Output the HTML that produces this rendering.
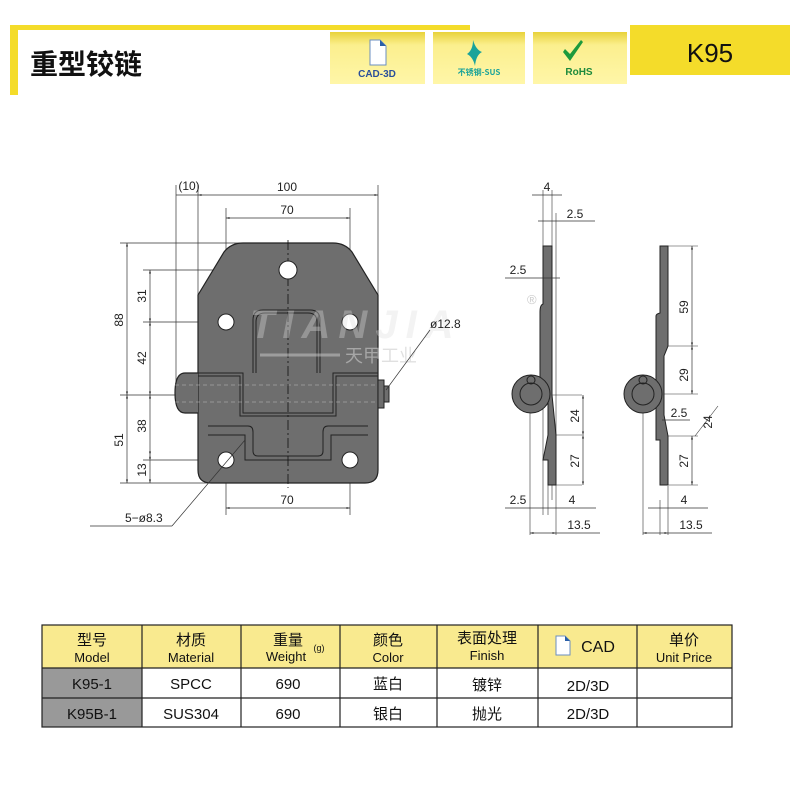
<!DOCTYPE html>
<html><head><meta charset="utf-8"><style>
body{margin:0;width:790px;height:790px;background:#fff;overflow:hidden;font-family:"Liberation Sans","Noto Sans CJK SC",sans-serif}
</style></head><body>
<svg width="790" height="790" viewBox="0 0 790 790" xmlns="http://www.w3.org/2000/svg" font-family="Liberation Sans, Noto Sans CJK SC, sans-serif">
<defs>
<linearGradient id="ig" x1="0" y1="0" x2="0" y2="1"><stop offset="0" stop-color="#e8d23a"/><stop offset="0.25" stop-color="#fbef8e"/><stop offset="1" stop-color="#fff6a8"/></linearGradient>
<marker id="a" viewBox="0 0 10 10" refX="10" refY="5" markerWidth="7" markerHeight="5" orient="auto-start-reverse"><path d="M0,2 L10,5 L0,8z" fill="#333"/></marker>
</defs>
<!-- header -->
<rect x="10" y="25" width="460" height="5" fill="#f4dc2a"/>
<rect x="10" y="25" width="8" height="70" fill="#f4dc2a"/>
<text x="30" y="74" font-size="28" font-weight="bold" fill="#111" font-family="Noto Sans CJK SC, sans-serif">重型铰链</text>
<rect x="330" y="32" width="95" height="52" fill="url(#ig)"/>
<rect x="433" y="32" width="92" height="52" fill="url(#ig)"/>
<rect x="533" y="32" width="94" height="52" fill="url(#ig)"/>
<path d="M370,40 h10 l6,6 v19 h-16z" fill="#fff" stroke="#6b8fc0"/><path d="M380,40 l6,6 h-6z" fill="#2a5fa8"/>
<text x="377" y="77" font-size="10" font-weight="bold" fill="#2a4f9a" text-anchor="middle">CAD-3D</text>
<path d="M473,40 q3,10 9,12 q-6,3 -7,14 q-2,-9 -8,-12 q6,-4 6,-14z" fill="#1aa39a"/>
<text x="479" y="75" font-size="8" font-weight="bold" fill="#1aa39a" text-anchor="middle" font-family="Noto Sans CJK SC, sans-serif">不锈钢-SUS</text>
<path d="M563,52 l7,9 l13,-19 l-2,-2 l-11,14 l-5,-5z" fill="#1d9a3c"/>
<text x="579" y="75" font-size="10" font-weight="bold" fill="#1d8a3c" text-anchor="middle">RoHS</text>
<rect x="630" y="25" width="160" height="50" fill="#f4dc2a"/>
<text x="710" y="62" font-size="26" fill="#111" text-anchor="middle">K95</text>

<g stroke="#333" stroke-width="0.7" fill="none">
<line x1="176" y1="185" x2="176" y2="395"/><line x1="198" y1="185" x2="198" y2="295"/><line x1="378" y1="185" x2="378" y2="295"/>
<line x1="226" y1="208" x2="226" y2="322"/><line x1="350" y1="208" x2="350" y2="322"/>
<line x1="226" y1="460" x2="226" y2="515"/><line x1="350" y1="460" x2="350" y2="515"/>
<line x1="120" y1="243" x2="290" y2="243"/><line x1="143" y1="270" x2="300" y2="270"/><line x1="143" y1="322" x2="240" y2="322"/>
<line x1="120" y1="395" x2="200" y2="395"/><line x1="143" y1="460" x2="215" y2="460"/><line x1="120" y1="483" x2="250" y2="483"/>
</g>
<!-- plate -->
<path d="M243,243 H333 Q345,243 352,252 L378,295 V470 Q378,483 365,483 H211 Q198,483 198,470 V295 L224,252 Q231,243 243,243Z" fill="#6e6e6e" stroke="#222" stroke-width="1.2"/>
<path d="M198,373 H185 Q175,373 175,393 Q175,413 185,413 H198" fill="#6e6e6e" stroke="#222" stroke-width="1.2"/>
<g fill="none" stroke="#222" stroke-width="1">
<path d="M198,373 H243 V413 H333 V373 H378"/><path d="M198,376 H240 V416 H336 V376 H378"/>
<path d="M253,373 V320 Q253,310 263,310 H310 Q320,310 320,320 V373"/><path d="M256,373 V322 Q256,313 265,313 H308 Q317,313 317,322 V373"/>
<path d="M208,426 H248 Q253,426 253,432 V451 Q253,456 258,456 H318 Q323,456 323,451 V432 Q323,426 328,426 H368"/>
<path d="M208,435 H245 V460 H331 V435 H368"/>
<rect x="378" y="380" width="6" height="28" fill="#6e6e6e"/><rect x="384" y="386" width="5" height="16" fill="#6e6e6e"/>
</g>
<g stroke="#bbb" stroke-width="0.6" stroke-dasharray="4,3"><line x1="175" y1="385" x2="378" y2="385"/><line x1="175" y1="402" x2="378" y2="402"/></g>
<line x1="288" y1="240" x2="288" y2="488" stroke="#111" stroke-dasharray="10,3,2,3" stroke-width="0.8"/>
<g fill="#fff" stroke="#222"><circle cx="288" cy="270" r="9"/><circle cx="226" cy="322" r="8"/><circle cx="350" cy="322" r="8"/><circle cx="226" cy="460" r="8"/><circle cx="350" cy="460" r="8"/></g>
<!-- watermark -->
<text x="250" y="338" font-size="40" font-weight="bold" font-style="italic" fill="#ddd" opacity="0.35" letter-spacing="8">TIANJIA</text>
<line x1="260" y1="355" x2="340" y2="355" stroke="#ccc" stroke-width="3" opacity="0.5"/>
<text x="345" y="362" font-size="18" fill="#ccc" opacity="0.6" font-family="Noto Sans CJK SC, sans-serif">天甲工业</text>
<!-- dims front -->
<g stroke="#333" stroke-width="0.7" marker-start="url(#a)" marker-end="url(#a)">
<line x1="198" y1="195" x2="378" y2="195"/><line x1="226" y1="218" x2="350" y2="218"/><line x1="226" y1="508" x2="350" y2="508"/>
<line x1="127" y1="243" x2="127" y2="395"/><line x1="127" y1="395" x2="127" y2="483"/>
<line x1="150" y1="270" x2="150" y2="322"/><line x1="150" y1="322" x2="150" y2="395"/><line x1="150" y1="395" x2="150" y2="455"/><line x1="150" y1="455" x2="150" y2="483"/>
</g>
<line x1="176" y1="195" x2="198" y2="195" stroke="#333" stroke-width="0.7"/>
<line x1="90" y1="526" x2="172" y2="526" stroke="#333" stroke-width="0.7"/><line x1="172" y1="526" x2="245" y2="440" stroke="#333" stroke-width="0.7"/>
<line x1="386" y1="390" x2="430" y2="330" stroke="#333" stroke-width="0.7"/>
<g font-size="12" fill="#222" text-anchor="middle">
<text x="189" y="190">(10)</text><text x="287" y="191">100</text><text x="287" y="214">70</text><text x="287" y="504">70</text>
<text x="125" y="522" text-anchor="start">5−ø8.3</text><text x="430" y="328" text-anchor="start">ø12.8</text>
<text transform="translate(123,320) rotate(-90)">88</text><text transform="translate(123,440) rotate(-90)">51</text>
<text transform="translate(146,296) rotate(-90)">31</text><text transform="translate(146,358) rotate(-90)">42</text>
<text transform="translate(146,426) rotate(-90)">38</text><text transform="translate(146,470) rotate(-90)">13</text>
</g>

<!-- side view left -->
<g stroke="#333" stroke-width="0.6" fill="none">
<line x1="543" y1="190" x2="543" y2="515"/><line x1="552" y1="190" x2="552" y2="500"/><line x1="556" y1="213" x2="556" y2="535"/>
<line x1="530" y1="400" x2="530" y2="535"/><line x1="548" y1="480" x2="548" y2="515"/>
<line x1="540" y1="395" x2="582" y2="395"/><line x1="548" y1="435" x2="582" y2="435"/><line x1="548" y1="485" x2="582" y2="485"/>
</g>
<path d="M543,246 H552 V395 L556,435 V485 H548 V460 H543 L548,435 V400 H540 V312 Q540,305 543,304Z" fill="#6e6e6e" stroke="#222"/>
<circle cx="531" cy="394" r="19" fill="#6e6e6e" stroke="#222"/><circle cx="531" cy="394" r="11" fill="none" stroke="#222"/><circle cx="531" cy="380" r="4" fill="none" stroke="#222"/>
<text x="527" y="304" font-size="13" fill="#ccc">®</text>
<!-- side view right -->
<g stroke="#333" stroke-width="0.6" fill="none">
<line x1="660" y1="500" x2="660" y2="535"/><line x1="668" y1="486" x2="668" y2="535"/><line x1="643" y1="400" x2="643" y2="535"/>
<line x1="668" y1="246" x2="698" y2="246"/><line x1="668" y1="346" x2="698" y2="346"/><line x1="660" y1="394" x2="698" y2="394"/><line x1="668" y1="436" x2="698" y2="436"/><line x1="668" y1="485" x2="698" y2="485"/>
<line x1="695" y1="436" x2="718" y2="406"/>
</g>
<path d="M660,246 H668 V346 L664,356 V415 L668,436 V485 H660 V440 H656 V316 Q656,314 660,313Z" fill="#6e6e6e" stroke="#222"/>
<circle cx="643" cy="394" r="19" fill="#6e6e6e" stroke="#222"/><circle cx="643" cy="394" r="11" fill="none" stroke="#222"/><circle cx="643" cy="380" r="4" fill="none" stroke="#222"/>
<g stroke="#333" stroke-width="0.7" marker-start="url(#a)" marker-end="url(#a)">
<line x1="583" y1="395" x2="583" y2="435"/><line x1="583" y1="435" x2="583" y2="485"/>
<line x1="692" y1="246" x2="692" y2="346"/><line x1="692" y1="346" x2="692" y2="394"/><line x1="692" y1="436" x2="692" y2="485"/>
<line x1="530" y1="533" x2="556" y2="533"/><line x1="643" y1="533" x2="668" y2="533"/>
</g>
<g stroke="#333" stroke-width="0.7">
<line x1="532" y1="195" x2="562" y2="195"/><line x1="538" y1="221" x2="595" y2="221"/><line x1="505" y1="278" x2="560" y2="278"/>
<line x1="505" y1="508" x2="596" y2="508"/><line x1="648" y1="508" x2="708" y2="508"/><line x1="556" y1="533" x2="600" y2="533"/><line x1="668" y1="533" x2="712" y2="533"/>
<line x1="662" y1="420" x2="690" y2="420"/>
</g>
<g font-size="12" fill="#222" text-anchor="middle">
<text x="547" y="191">4</text><text x="575" y="218">2.5</text><text x="518" y="274">2.5</text>
<text x="518" y="504">2.5</text><text x="572" y="504">4</text><text x="579" y="529">13.5</text>
<text x="684" y="504">4</text><text x="691" y="529">13.5</text><text x="679" y="417">2.5</text>
<text transform="translate(579,416) rotate(-90)">24</text><text transform="translate(579,461) rotate(-90)">27</text>
<text transform="translate(688,307) rotate(-90)">59</text><text transform="translate(688,375) rotate(-90)">29</text><text transform="translate(688,461) rotate(-90)">27</text>
<text transform="translate(712,422) rotate(-90)">24</text>
</g>

<!-- table -->
<rect x="42" y="625" width="690" height="43" fill="#f9ea8f"/>
<rect x="42" y="668" width="100" height="59" fill="#999"/>
<g stroke="#222" stroke-width="1.2" fill="none">
<rect x="42" y="625" width="690" height="102"/>
<line x1="42" y1="668" x2="732" y2="668"/><line x1="42" y1="698" x2="732" y2="698"/>
<line x1="142" y1="625" x2="142" y2="727"/><line x1="241" y1="625" x2="241" y2="727"/><line x1="340" y1="625" x2="340" y2="727"/>
<line x1="437" y1="625" x2="437" y2="727"/><line x1="538" y1="625" x2="538" y2="727"/><line x1="637" y1="625" x2="637" y2="727"/>
</g>
<g font-size="15" fill="#111" text-anchor="middle" font-family="Noto Sans CJK SC, sans-serif">
<text x="92" y="645">型号</text><text x="191" y="645">材质</text><text x="288" y="645">重量</text><text x="388" y="645">颜色</text><text x="487" y="643">表面处理</text><text x="684" y="645">单价</text>
</g>
<g font-size="13" fill="#111" text-anchor="middle">
<text x="92" y="662">Model</text><text x="191" y="662">Material</text><text x="286" y="661">Weight</text><text x="319" y="651" font-size="9">(g)</text><text x="388" y="662">Color</text><text x="487" y="660">Finish</text><text x="684" y="662">Unit Price</text>
<text x="598" y="652" font-size="16">CAD</text>
</g>
<path d="M556,636 h9 l5,5 v14 h-14z" fill="#fff" stroke="#6b8fc0"/><path d="M565,636 l5,5 h-5z" fill="#2a5fa8"/>
<g font-size="15" fill="#111" text-anchor="middle">
<text x="92" y="689">K95-1</text><text x="191" y="689">SPCC</text><text x="288" y="689">690</text><text x="588" y="691">2D/3D</text>
<text x="92" y="719">K95B-1</text><text x="191" y="719">SUS304</text><text x="288" y="719">690</text><text x="588" y="719">2D/3D</text>
</g>
<g font-size="15" fill="#111" text-anchor="middle" font-family="Noto Sans CJK SC, sans-serif">
<text x="388" y="689">蓝白</text><text x="487" y="690">镀锌</text><text x="388" y="719">银白</text><text x="487" y="719">抛光</text>
</g>
</svg>
</body></html>
